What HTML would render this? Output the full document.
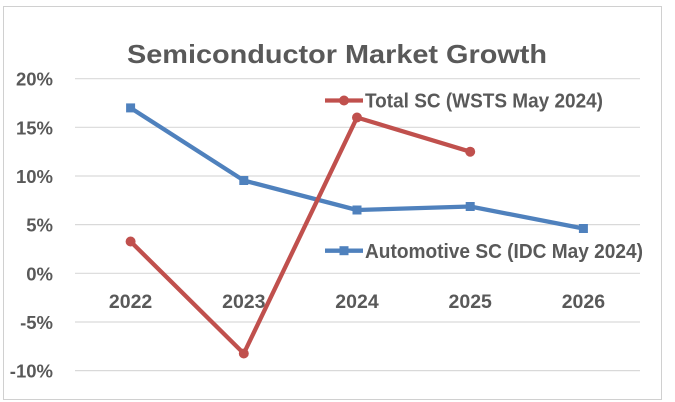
<!DOCTYPE html>
<html>
<head>
<meta charset="utf-8">
<style>
html,body{margin:0;padding:0;background:#fff;}
svg{display:block;}
text{font-family:"Liberation Sans",sans-serif;font-weight:bold;fill:#595959;}
</style>
</head>
<body>
<svg width="675" height="402" viewBox="0 0 675 402" xmlns="http://www.w3.org/2000/svg">
<rect x="0" y="0" width="675" height="402" fill="#fff"/>
<rect x="3.5" y="6.5" width="658" height="393" fill="#fff" stroke="#d0d0d0" stroke-width="1"/>
<!-- gridlines -->
<g stroke="#d9d9d9" stroke-width="1.2">
<line x1="75" y1="78.7" x2="640" y2="78.7"/>
<line x1="75" y1="127.3" x2="640" y2="127.3"/>
<line x1="75" y1="176" x2="640" y2="176"/>
<line x1="75" y1="224.6" x2="640" y2="224.6"/>
<line x1="75" y1="273.3" x2="640" y2="273.3"/>
<line x1="75" y1="322" x2="640" y2="322"/>
<line x1="75" y1="370.6" x2="640" y2="370.6"/>
</g>
<!-- title -->
<text x="127" y="63" font-size="26" textLength="420" lengthAdjust="spacingAndGlyphs">Semiconductor Market Growth</text>
<!-- y labels -->
<g font-size="18.5" text-anchor="end">
<text x="53" y="85.7">20%</text>
<text x="53" y="134.3">15%</text>
<text x="53" y="183">10%</text>
<text x="53" y="231.6">5%</text>
<text x="53" y="280.3">0%</text>
<text x="53" y="329">-5%</text>
<text x="53" y="377.6">-10%</text>
</g>
<!-- x labels -->
<g font-size="19.5" text-anchor="middle">
<text x="130.6" y="308">2022</text>
<text x="243.8" y="308">2023</text>
<text x="357" y="308">2024</text>
<text x="470.2" y="308">2025</text>
<text x="583.4" y="308">2026</text>
</g>
<!-- blue series -->
<polyline points="130.6,107.9 243.8,180.5 357,210 470.2,206.5 583.4,228.5" fill="none" stroke="#4F81BD" stroke-width="4.3" stroke-linejoin="round"/>
<g fill="#4F81BD">
<rect x="126.1" y="103.4" width="9" height="9"/>
<rect x="239.3" y="176" width="9" height="9"/>
<rect x="352.5" y="205.5" width="9" height="9"/>
<rect x="465.7" y="202" width="9" height="9"/>
<rect x="578.9" y="224" width="9" height="9"/>
</g>
<!-- red series -->
<polyline points="130.6,241.5 243.8,353.5 357,117.5 470.2,151.7" fill="none" stroke="#C0504D" stroke-width="4.3" stroke-linejoin="round"/>
<g fill="#C0504D">
<circle cx="130.6" cy="241.5" r="5"/>
<circle cx="243.8" cy="353.5" r="5"/>
<circle cx="357" cy="117.5" r="5"/>
<circle cx="470.2" cy="151.7" r="5"/>
</g>
<!-- legend -->
<line x1="325" y1="100.5" x2="363" y2="100.5" stroke="#C0504D" stroke-width="4.3"/>
<circle cx="344" cy="100.5" r="5" fill="#C0504D"/>
<text x="365" y="107.5" font-size="20" textLength="238" lengthAdjust="spacingAndGlyphs">Total SC (WSTS May 2024)</text>
<line x1="325" y1="250.7" x2="363" y2="250.7" stroke="#4F81BD" stroke-width="4.3"/>
<rect x="339.5" y="246.2" width="9" height="9" fill="#4F81BD"/>
<text x="365" y="258" font-size="20" textLength="278" lengthAdjust="spacingAndGlyphs">Automotive SC (IDC May 2024)</text>
</svg>
</body>
</html>
